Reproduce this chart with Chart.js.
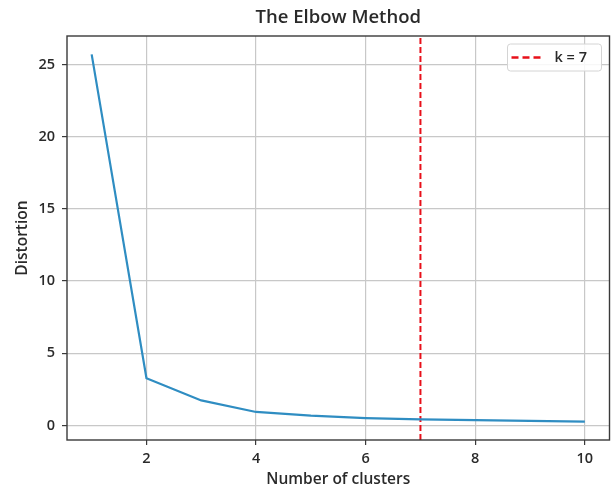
<!DOCTYPE html>
<html>
<head>
<meta charset="utf-8">
<script src="https://cdn.jsdelivr.net/npm/chart.js@4/dist/chart.umd.min.js"></script>
<style>
  html, body { margin: 0; padding: 0; background: #fff; }
  #wrap { width: 614px; height: 490px; }
</style>
</head>
<body>
<div id="wrap"><canvas id="c" width="614" height="490"></canvas></div>
<script>
// ---- data ----
const clusters = [1, 2, 3, 4, 5, 6, 7, 8, 9, 10];
const distortion = [25.7, 3.27, 1.73, 0.93, 0.67, 0.51, 0.42, 0.37, 0.31, 0.26];
const elbowK = 7;
const xTicks = [2, 4, 6, 8, 10];
const yTicks = [0, 5, 10, 15, 20, 25];
const chartTitle = 'The Elbow Method';
const xLabel = 'Number of clusters';
const yLabel = 'Distortion';
const elbowLabel = 'k = ' + elbowK;

// axis limits with matplotlib-like 5% margins
const xSpan = clusters[clusters.length - 1] - clusters[0];
const xMin = clusters[0] - 0.05 * xSpan;
const xMax = clusters[clusters.length - 1] + 0.05 * xSpan;
const dMin = Math.min(...distortion), dMax = Math.max(...distortion);
const yMin = dMin - 0.05 * (dMax - dMin);
const yMax = dMax + 0.05 * (dMax - dMin);

const FONT = "'Open Sans', sans-serif";
const TEXT = '#2a2a2a';

const framePlugin = {
  id: 'frame',
  afterDatasetsDraw(chart) {
    const { ctx, chartArea: a } = chart;
    ctx.save();
    ctx.strokeStyle = '#3a3a3a';
    ctx.lineWidth = 1.4;
    ctx.strokeRect(a.left, a.top, a.right - a.left, a.bottom - a.top);
    ctx.restore();
  }
};

const innerLegend = {
  id: 'innerLegend',
  afterDraw(chart) {
    const { ctx, chartArea: a } = chart;
    const ds = chart.data.datasets[1];
    const w = 94, h = 27;
    const x = a.right - 8 - w, y = a.top + 8;
    ctx.save();
    ctx.fillStyle = 'rgba(255,255,255,0.85)';
    ctx.strokeStyle = '#d4d4d4';
    ctx.lineWidth = 1;
    ctx.beginPath();
    ctx.roundRect(x, y, w, h, 3);
    ctx.fill();
    ctx.stroke();
    ctx.strokeStyle = ds.borderColor;
    ctx.lineWidth = 2.5;
    ctx.setLineDash([7, 4]);
    ctx.beginPath();
    ctx.moveTo(x + 4, y + h / 2);
    ctx.lineTo(x + 33, y + h / 2);
    ctx.stroke();
    ctx.setLineDash([]);
    ctx.fillStyle = TEXT;
    ctx.font = '600 14.5px ' + FONT;
    ctx.textBaseline = 'middle';
    ctx.textAlign = 'left';
    ctx.fillText(ds.label, x + 47, y + h / 2 + 0.5);
    ctx.restore();
  }
};

new Chart(document.getElementById('c'), {
  type: 'line',
  data: {
    datasets: [
      {
        label: 'Distortion',
        data: clusters.map((k, i) => ({ x: k, y: distortion[i] })),
        borderColor: '#2f8dc2',
        borderWidth: 2.2,
        pointRadius: 0,
        tension: 0,
        fill: false
      },
      {
        label: elbowLabel,
        data: [{ x: elbowK, y: yMin }, { x: elbowK, y: yMax }],
        borderColor: '#e8101a',
        borderWidth: 2,
        borderDash: [6, 3],
        pointRadius: 0,
        fill: false
      }
    ]
  },
  plugins: [framePlugin, innerLegend],
  options: {
    responsive: false,
    animation: false,
    devicePixelRatio: 1,
    layout: { padding: { left: 0, right: 4.5, top: 0, bottom: 0 } },
    plugins: {
      legend: { display: false },
      tooltip: { enabled: false },
      title: {
        display: true,
        fullSize: false,
        text: chartTitle,
        color: TEXT,
        font: { family: FONT, size: 18.5, weight: '600' },
        padding: { top: 7, bottom: 6.8 }
      }
    },
    scales: {
      x: {
        type: 'linear',
        min: xMin,
        max: xMax,
        afterBuildTicks: (s) => { s.ticks = xTicks.map(v => ({ value: v })); },
        afterFit: (s) => { s.height = 50; },
        grid: { color: '#c8c8c8', lineWidth: 1.2, tickColor: '#3a3a3a', tickLength: 5, drawTicks: true },
        border: { display: false },
        ticks: { color: TEXT, font: { family: FONT, size: 14.5, weight: '600' }, padding: 5, maxRotation: 0 },
        title: { display: true, text: xLabel, color: TEXT, font: { family: FONT, size: 15.5, weight: '600' }, padding: { top: 0, bottom: 1 } }
      },
      y: {
        type: 'linear',
        min: yMin,
        max: yMax,
        afterBuildTicks: (s) => { s.ticks = yTicks.map(v => ({ value: v })); },
        afterFit: (s) => { s.width = 67; },
        grid: { color: '#c8c8c8', lineWidth: 1.2, tickColor: '#3a3a3a', tickLength: 5, drawTicks: true },
        border: { display: false },
        ticks: { color: TEXT, font: { family: FONT, size: 14.5, weight: '600' }, padding: 7 },
        title: { display: true, text: yLabel, color: TEXT, font: { family: FONT, size: 15.5, weight: '600' }, padding: { top: 13, bottom: 0 } }
      }
    }
  }
});
</script>
</body>
</html>
